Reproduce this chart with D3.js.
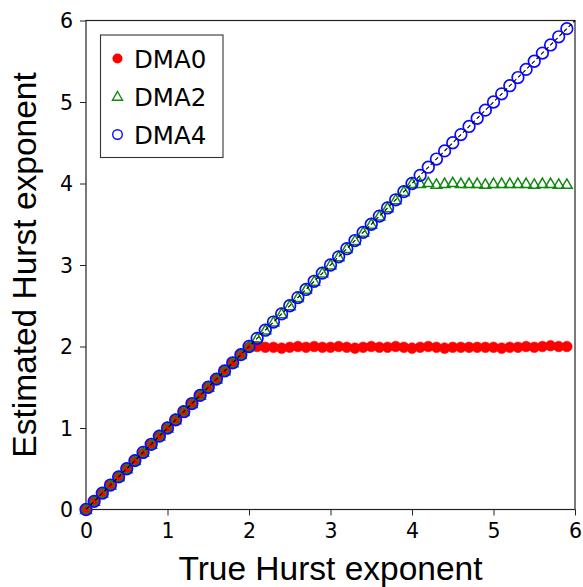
<!DOCTYPE html>
<html>
<head>
<meta charset="utf-8">
<script src="https://cdn.jsdelivr.net/npm/d3@7"></script>
<style>
  html, body { margin: 0; padding: 0; background: #fff; }
  svg { display: block; }
</style>
</head>
<body>
<svg id="chart" width="583" height="587"></svg>
<script>
// True Hurst exponent used to generate each test signal
const trueH = [
  0.0, 0.1, 0.2, 0.3, 0.4, 0.5, 0.6, 0.7, 0.8, 0.9,
  1.0, 1.1, 1.2, 1.3, 1.4, 1.5, 1.6, 1.7, 1.8, 1.9,
  2.0, 2.1, 2.2, 2.3, 2.4, 2.5, 2.6, 2.7, 2.8, 2.9,
  3.0, 3.1, 3.2, 3.3, 3.4, 3.5, 3.6, 3.7, 3.8, 3.9,
  4.0, 4.1, 4.2, 4.3, 4.4, 4.5, 4.6, 4.7, 4.8, 4.9,
  5.0, 5.1, 5.2, 5.3, 5.4, 5.5, 5.6, 5.7, 5.8, 5.9
];

// Estimated exponents for each DMA order
const dma0 = [
  0.00, 0.10, 0.20, 0.30, 0.40, 0.50, 0.60, 0.69, 0.80, 0.90,
  1.00, 1.10, 1.20, 1.30, 1.40, 1.50, 1.60, 1.70, 1.80, 1.90,
  1.99, 2.00, 1.99, 1.99, 1.98, 1.99, 2.00, 1.99, 2.00, 1.99,
  1.99, 2.00, 1.99, 1.98, 1.99, 2.00, 1.99, 1.99, 2.00, 1.99,
  1.98, 1.99, 2.00, 1.99, 1.98, 1.99, 1.99, 1.99, 1.99, 1.99,
  1.99, 1.98, 1.99, 1.99, 2.00, 1.99, 2.00, 2.01, 2.00, 2.00
];

const dma2 = [
  0.00, 0.10, 0.20, 0.30, 0.40, 0.50, 0.60, 0.70, 0.80, 0.90,
  1.00, 1.10, 1.20, 1.30, 1.40, 1.50, 1.60, 1.70, 1.80, 1.90,
  2.00, 2.10, 2.20, 2.30, 2.40, 2.50, 2.60, 2.70, 2.80, 2.90,
  3.00, 3.10, 3.20, 3.30, 3.40, 3.50, 3.60, 3.70, 3.80, 3.90,
  4.00, 4.00, 4.01, 3.99, 4.00, 4.01, 4.00, 4.00, 4.00, 3.99,
  4.00, 4.00, 4.00, 4.00, 4.00, 3.99, 4.00, 4.00, 3.99, 3.99
];

const dma4 = [
  0.00, 0.10, 0.20, 0.30, 0.40, 0.50, 0.60, 0.70, 0.80, 0.90,
  1.00, 1.10, 1.20, 1.30, 1.40, 1.50, 1.60, 1.70, 1.80, 1.90,
  2.00, 2.10, 2.20, 2.30, 2.40, 2.50, 2.60, 2.70, 2.80, 2.90,
  3.00, 3.10, 3.20, 3.30, 3.40, 3.50, 3.60, 3.70, 3.80, 3.90,
  4.00, 4.10, 4.20, 4.30, 4.40, 4.50, 4.60, 4.70, 4.80, 4.90,
  5.00, 5.10, 5.20, 5.30, 5.40, 5.50, 5.60, 5.70, 5.80, 5.90
];

const tickValues = [0, 1, 2, 3, 4, 5, 6];
const seriesNames = ["DMA0", "DMA2", "DMA4"];
const xLabel = "True Hurst exponent";
const yLabel = "Estimated Hurst exponent";

const svg = d3.select("#chart");
const x = d3.scaleLinear().domain([0, 6]).range([86, 575]);
const y = d3.scaleLinear().domain([0, 6]).range([509.5, 20.5]);

const tickFont = "'DejaVu Sans', sans-serif";
const labelFont = "'Liberation Sans', Arial, sans-serif";

// Axes
const xAxis = svg.append("g")
  .attr("transform", `translate(0,${y(0)})`)
  .call(d3.axisBottom(x).tickValues(tickValues).tickFormat(d3.format("d"))
        .tickSizeOuter(0).tickSize(6).tickPadding(8));
const yAxis = svg.append("g")
  .attr("transform", `translate(${x(0)},0)`)
  .call(d3.axisLeft(y).tickValues(tickValues).tickFormat(d3.format("d"))
        .tickSizeOuter(0).tickSize(6).tickPadding(7));
[xAxis, yAxis].forEach(a => {
  a.select(".domain").remove();
  a.selectAll(".tick line").attr("stroke", "#222").attr("stroke-width", 1);
  a.selectAll(".tick text").attr("fill", "#000")
    .style("font-family", tickFont).style("font-size", "20.5px");
});
yAxis.selectAll(".tick text").attr("dy", "0.36em");

// Plot frame
svg.append("rect")
  .attr("x", x(0)).attr("y", y(6))
  .attr("width", x(6) - x(0)).attr("height", y(0) - y(6))
  .attr("fill", "none").attr("stroke", "#222").attr("stroke-width", 1.2);

const plot = svg.append("g");

// DMA0: filled red circles
plot.selectAll(".dma0").data(trueH.map((h, i) => [h, dma0[i]])).join("circle")
  .attr("cx", d => x(d[0])).attr("cy", d => y(d[1])).attr("r", 5.3)
  .attr("fill", "#ff0000").attr("stroke", "#ff0000").attr("stroke-width", 0.6);

// DMA2: open green triangles
const tri = d3.symbol().type(d3.symbolTriangle).size(50);
plot.selectAll(".dma2").data(trueH.map((h, i) => [h, dma2[i]])).join("path")
  .attr("transform", d => `translate(${x(d[0])},${y(d[1]) + 0.8})`)
  .attr("d", tri)
  .attr("fill", "none").attr("stroke", "#118811").attr("stroke-width", 1.5);

// DMA4: open blue circles
plot.selectAll(".dma4").data(trueH.map((h, i) => [h, dma4[i]])).join("circle")
  .attr("cx", d => x(d[0])).attr("cy", d => y(d[1])).attr("r", 5.8)
  .attr("fill", "none").attr("stroke", "#0a0aff").attr("stroke-width", 1.7);

// Reference diagonal y = x
plot.append("line")
  .attr("x1", x(0)).attr("y1", y(0)).attr("x2", x(6)).attr("y2", y(6))
  .attr("stroke", "#000").attr("stroke-width", 1.1).attr("stroke-dasharray", "4,2.5");

// Axis titles
svg.append("text")
  .attr("x", (x(0) + x(6)) / 2).attr("y", 580)
  .attr("text-anchor", "middle")
  .style("font-family", labelFont).style("font-size", "33.5px")
  .text(xLabel);
svg.append("text")
  .attr("transform", `translate(36,${(y(0) + y(6)) / 2}) rotate(-90)`)
  .attr("text-anchor", "middle")
  .style("font-family", labelFont).style("font-size", "33.5px")
  .text(yLabel);

// Legend
const legend = svg.append("g");
legend.append("rect")
  .attr("x", 100.5).attr("y", 35).attr("width", 122.5).attr("height", 122.5)
  .attr("fill", "#fff").attr("stroke", "#333").attr("stroke-width", 1.1);
const rowY = [58.5, 96.5, 134.5];
const mx = 117.5;
legend.append("circle").attr("cx", mx).attr("cy", rowY[0]).attr("r", 5)
  .attr("fill", "#ff0000");
legend.append("path")
  .attr("transform", `translate(${mx},${rowY[1] + 0.8})`)
  .attr("d", d3.symbol().type(d3.symbolTriangle).size(44))
  .attr("fill", "none").attr("stroke", "#118811").attr("stroke-width", 1.4);
legend.append("circle").attr("cx", mx).attr("cy", rowY[2]).attr("r", 4.8)
  .attr("fill", "none").attr("stroke", "#0a0aff").attr("stroke-width", 1.4);
legend.selectAll(".lt").data(seriesNames).join("text")
  .attr("x", 134).attr("y", (d, i) => rowY[i] + 9)
  .style("font-family", tickFont).style("font-size", "24.5px")
  .text(d => d);
</script>
</body>
</html>
